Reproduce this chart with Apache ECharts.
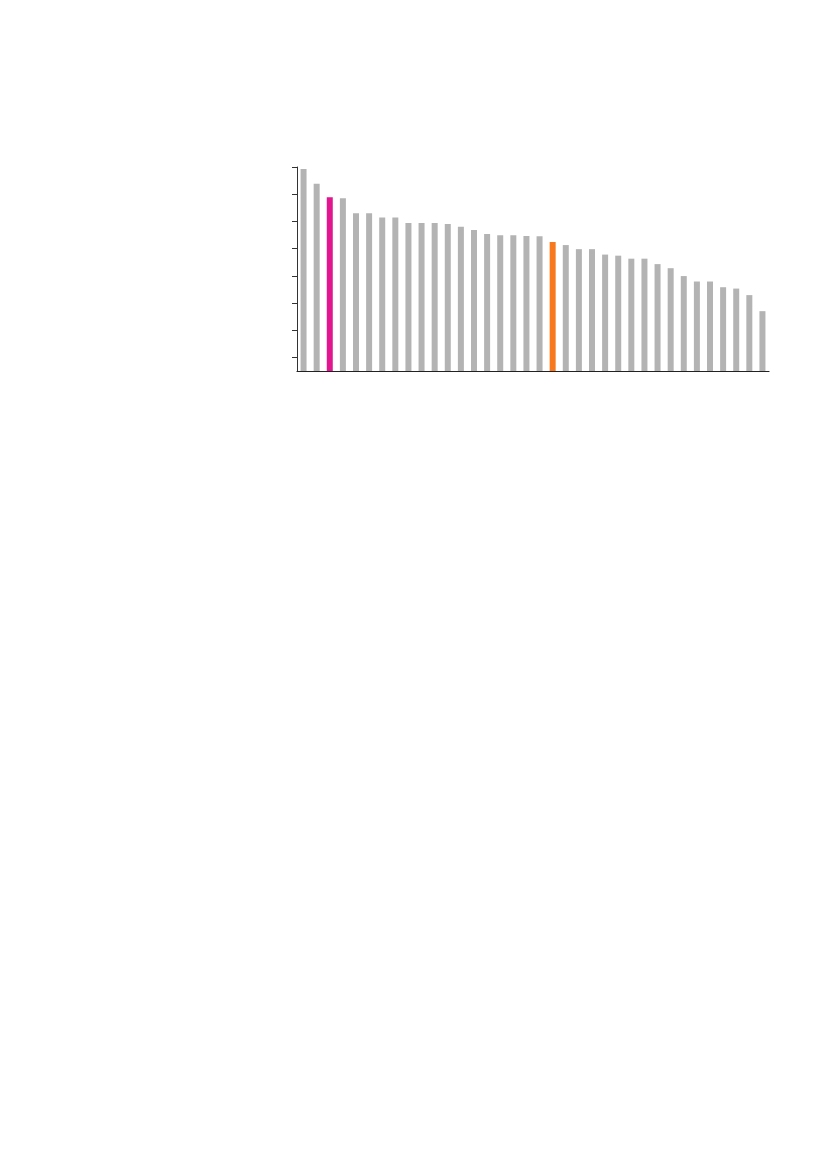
<!DOCTYPE html>
<html>
<head>
<meta charset="utf-8">
<script src="https://cdn.jsdelivr.net/npm/echarts@6/dist/echarts.min.js"></script>
<style>
  html, body { margin: 0; padding: 0; background: #fff; }
  #chart { width: 827px; height: 1169px; }
</style>
</head>
<body>
<div id="chart"></div>
<script>
const categories = Array.from({ length: 36 }, (_, i) => String(i + 1));

const values = [
  74.3, 68.8, 63.9, 63.5, 58.0, 58.0, 56.4, 56.4, 54.4, 54.4, 54.4, 54.0,
  53.0, 51.8, 50.4, 49.9, 49.9, 49.6, 49.5, 47.4, 46.3, 44.8, 44.8, 42.8,
  42.4, 41.3, 41.3, 39.3, 37.8, 34.9, 32.9, 32.9, 30.8, 30.3, 27.9, 22.0
];

// bars drawn in a highlight colour: index -> colour
const highlights = { 2: "#e2168e", 19: "#f7781d" };

const yTicks = [5, 15, 25, 35, 45, 55, 65, 75];

const chart = echarts.init(document.getElementById("chart"), null, { renderer: "canvas" });

chart.setOption({
  animation: false,
  grid: {
    left: 297,
    right: 58,
    top: 167,
    bottom: 798,
  },
  xAxis: {
    type: "category",
    data: categories,
    boundaryGap: true,
    axisLine: { lineStyle: { color: "#222", width: 1.2 } },
    axisTick: { show: false },
    axisLabel: { show: false },
  },
  yAxis: {
    type: "value",
    min: 0,
    max: 75,
    splitLine: { show: false },
    axisLine: { show: true, lineStyle: { color: "#333", width: 1 } },
    axisTick: {
      show: true,
      length: 5,
      customValues: yTicks,
      lineStyle: { color: "#333" },
    },
    axisLabel: { show: false },
  },
  series: [
    {
      type: "bar",
      barWidth: 6,
      data: values.map((v, i) => ({
        value: v,
        itemStyle: { color: highlights[i] || "#b3b3b3" },
      })),
    },
  ],
});
</script>
</body>
</html>
